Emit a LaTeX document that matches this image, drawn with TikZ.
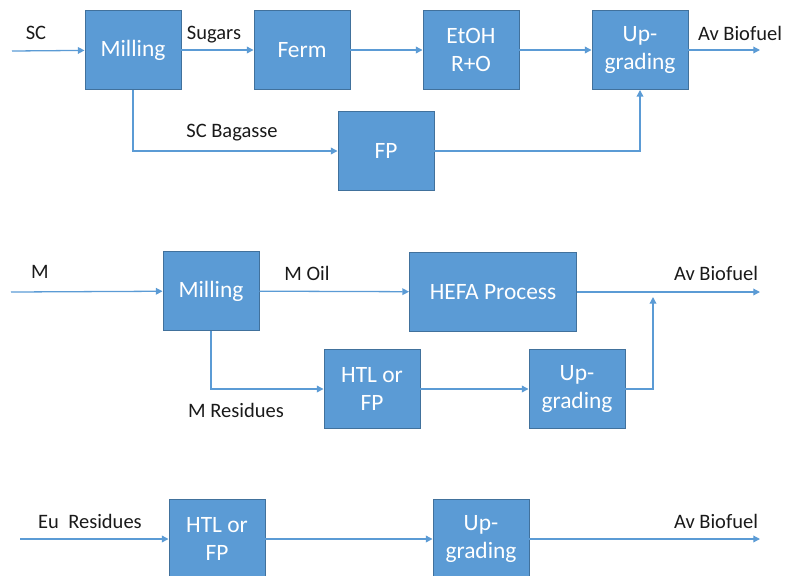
\documentclass[tikz,border=0pt]{standalone}
\usepackage{fontspec}
\setmainfont{Carlito}
\usetikzlibrary{arrows.meta,positioning}
\definecolor{boxblue}{HTML}{5B9BD5}
\definecolor{boxedge}{HTML}{41719C}
\definecolor{labeltext}{HTML}{1A1A1A}

\begin{document}
\begin{tikzpicture}[
  x=0.03cm, y=-0.03cm,
  proc/.style={draw=boxedge, fill=boxblue, line width=0.8pt, rectangle,
    minimum width=2.88cm, minimum height=2.37cm, text=white, align=center,
    font=\fontsize{20}{24}\selectfont},
  lbl/.style={text=labeltext, font=\fontsize{17.5}{20}\selectfont},
  flow/.style={draw=boxblue, line width=1.1pt, -{Triangle[length=2mm,width=2mm]}},
  ]
  \useasboundingbox (0,0) rectangle (785,575);

  % sugar cane route
  \node (mill_a) [proc] at (133,50) {Milling};
  \node (ferm_a) [proc] at (302,50) {Ferm};
  \node (etoh_a) [proc] at (471,50) {EtOH\\R+O};
  \node (upg_a) [proc] at (640,50) {Up-\\grading};
  \node (fp_a) [proc] at (386,151) {FP};
  \coordinate (in_a) at (12,51);
  \coordinate (out_a) at (760,50);

  \node (lbl_sc) [lbl] at (36,33) {SC};
  \node (lbl_sugars) [lbl] at (214,35) {Sugars};
  \node (lbl_bagasse) [lbl] at (232,133) {SC Bagasse};
  \node (lbl_out_a) [lbl] at (740,33) {Av Biofuel};

  \draw[flow] (in_a) -- (mill_a);
  \draw[flow] (mill_a) -- (ferm_a);
  \draw[flow] (ferm_a) -- (etoh_a);
  \draw[flow] (etoh_a) -- (upg_a);
  \draw[flow] (upg_a) -- (out_a);
  \draw[flow] (mill_a) |- (fp_a);
  \draw[flow] (fp_a) -| (upg_a);

  % microalgae route
  \node (mill_b) [proc] at (211,291) {Milling};
  \node (hefa_b) [proc, minimum width=5.01cm] at (493,292) {HEFA Process};
  \node (htl_b) [proc] at (372,389) {HTL or\\FP};
  \node (upg_b) [proc] at (577,389) {Up-\\grading};
  \coordinate (in_b) at (11,292);
  \coordinate (out_b) at (760,292);
  \coordinate (join_b) at (653,297);

  \node (lbl_m) [lbl] at (40,272) {M};
  \node (lbl_oil) [lbl] at (307,273) {M Oil};
  \node (lbl_res) [lbl] at (236,410) {M Residues};
  \node (lbl_out_b) [lbl] at (716,273) {Av Biofuel};

  \draw[flow] (in_b) -- (mill_b);
  \draw[flow] (mill_b) -- (hefa_b);
  \draw[flow] (hefa_b) -- (out_b);
  \draw[flow] (mill_b) |- (htl_b);
  \draw[flow] (htl_b) -- (upg_b);
  \draw[flow] (upg_b.east) -| (join_b);

  % eucalyptus route
  \node (htl_c) [proc] at (217,539) {HTL or\\FP};
  \node (upg_c) [proc] at (481,539) {Up-\\grading};
  \coordinate (in_c) at (20,539);
  \coordinate (out_c) at (760,539);

  \node (lbl_eu) [lbl] at (90,521) {Eu~~Residues};
  \node (lbl_out_c) [lbl] at (716,521) {Av Biofuel};

  \draw[flow] (in_c) -- (htl_c);
  \draw[flow] (htl_c) -- (upg_c);
  \draw[flow] (upg_c) -- (out_c);

\end{tikzpicture}
\end{document}
